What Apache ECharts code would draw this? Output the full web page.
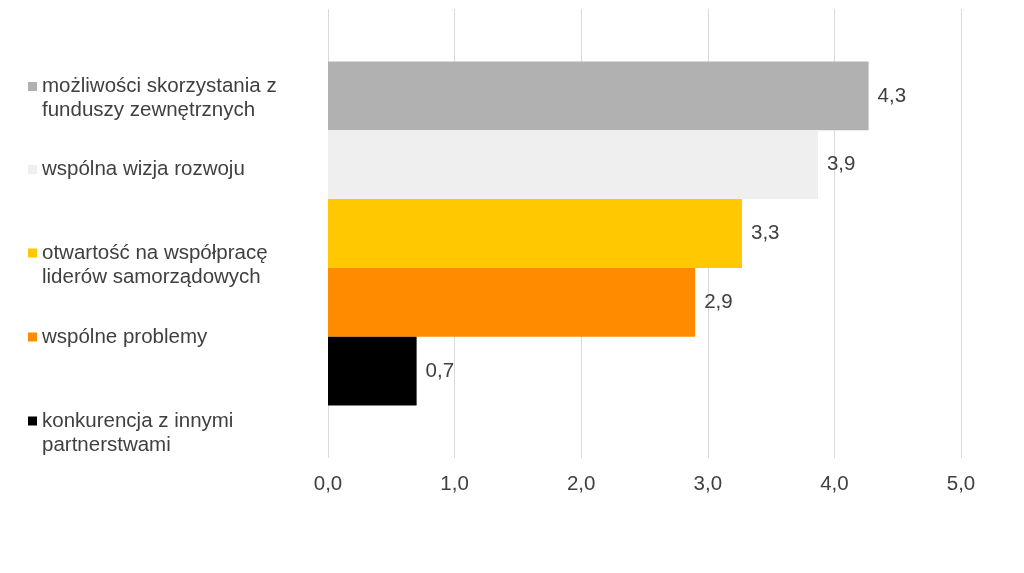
<!DOCTYPE html>
<html>
<head>
<meta charset="utf-8">
<script src="https://cdn.jsdelivr.net/npm/echarts@6/dist/echarts.min.js"></script>
<style>html,body{margin:0;padding:0;background:#fff}#c{width:1024px;height:573px}</style>
</head>
<body>
<div id="c"></div>
<script>
const seriesNames = [
  'możliwości skorzystania z\nfunduszy zewnętrznych',
  'wspólna wizja rozwoju',
  'otwartość na współpracę\nliderów samorządowych',
  'wspólne problemy',
  'konkurencja z innymi\npartnerstwami'
];
const values = [4.27, 3.87, 3.27, 2.90, 0.70];
const category = [''];
const xTicks = [0, 1, 2, 3, 4, 5];

const palette = ['#b1b1b1', '#efefef', '#ffc800', '#ff8c00', '#000000'];
const legendCenters = [86.5, 169.5, 253, 337, 421];
const lh = 24;
const font = 'Liberation Sans, Arial, sans-serif';
const txt = '#404040';
const fmt = v => v.toFixed(1).replace('.', ',');

const chart = echarts.init(document.getElementById('c'));
chart.setOption({
  animation: false,
  textStyle: { fontFamily: font },
  grid: { left: 328, right: 63, top: 9, bottom: 115, containLabel: false },
  xAxis: {
    type: 'value', min: xTicks[0], max: xTicks[xTicks.length - 1], interval: 1,
    axisLine: { show: false }, axisTick: { show: false },
    splitLine: { show: true, lineStyle: { color: '#d9d9d9', width: 1 } },
    axisLabel: { color: txt, fontSize: 20.5, fontFamily: font, margin: 16, formatter: v => fmt(v) }
  },
  yAxis: {
    type: 'category', data: category, inverse: true,
    axisLine: { show: false }, axisTick: { show: false }, axisLabel: { show: false }
  },
  legend: seriesNames.map((n, i) => {
    const two = n.indexOf('\n') >= 0;
    return {
      data: [n], left: 28, top: legendCenters[i] - (two ? 1.5 * lh : 0.5 * lh),
      orient: 'vertical', itemWidth: 9, itemHeight: 9, itemGap: 6, padding: 0,
      icon: 'rect', selectedMode: false,
      formatter: name => (name.indexOf('\n') >= 0 ? ' \n' + name : name),
      textStyle: { color: txt, fontSize: 20.5, fontFamily: font, lineHeight: lh }
    };
  }),
  series: seriesNames.map((n, i) => ({
    name: n, type: 'bar', data: [values[i]],
    barGap: 0, barCategoryGap: '23.4%',
    itemStyle: { color: palette[i] },
    label: { show: true, position: 'right', distance: 9, color: txt, fontSize: 20.5, fontFamily: font, formatter: p => fmt(p.value) }
  }))
});
</script>
</body>
</html>
